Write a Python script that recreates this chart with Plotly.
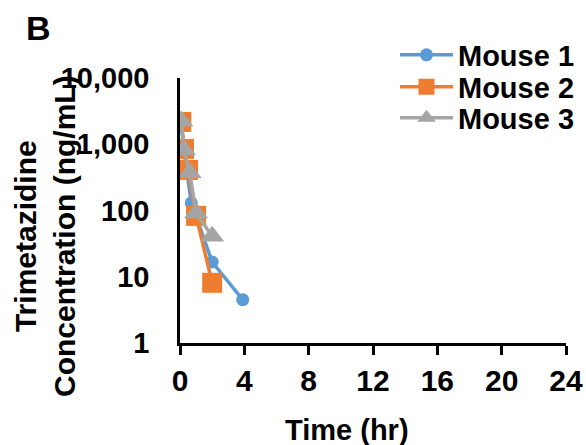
import plotly.graph_objects as go

# Data (time in hr, concentration in ng/mL)
m1_time = [0.083, 0.25, 0.7, 2, 3.9]
m1_conc = [2000, 800, 130, 16.7, 4.5]

m2_time = [0.083, 0.25, 0.5, 1, 2]
m2_conc = [2170, 850, 410, 83, 8.1]

m3_time = [0.083, 0.25, 0.6, 1, 2]
m3_conc = [2240, 820, 370, 92, 41]

x_ticks = [0, 4, 8, 12, 16, 20, 24]
y_ticks = [1, 10, 100, 1000, 10000]
y_ticklabels = ["1", "10", "100", "1,000", "10,000"]

FONT = "Liberation Sans, Arial, sans-serif"
BLUE = "#5B9BD5"
ORANGE = "#ED7D31"
GRAY = "#A5A5A5"

fig = go.Figure()
fig.add_trace(go.Scatter(x=m1_time, y=m1_conc, name="Mouse 1", mode="lines+markers",
                         line=dict(color=BLUE, width=3.5), legend="legend",
                         marker=dict(symbol="circle", size=13, color=BLUE)))
fig.add_trace(go.Scatter(x=m2_time, y=m2_conc, name="Mouse 2", mode="lines+markers",
                         line=dict(color=ORANGE, width=3.5), legend="legend2",
                         marker=dict(symbol="square", size=20, color=ORANGE)))
fig.add_trace(go.Scatter(x=m3_time, y=m3_conc, name="Mouse 3", mode="lines+markers",
                         line=dict(color=GRAY, width=3.5), legend="legend3",
                         marker=dict(symbol="triangle-up", size=21, color=GRAY)))

L, R, T, B = 180, 20, 78, 102
W, H = 586, 445
pw = W - L - R
ph = H - T - B

def px_x(px):
    return (px - L) / pw

def px_y(py):
    return (H - B - py) / ph

def legend_at(row_y):
    return dict(x=px_x(395), y=px_y(row_y), xanchor="left", yanchor="middle",
                bgcolor="rgba(0,0,0,0)", itemwidth=53,
                font=dict(family=FONT, size=29, weight="bold", color="black"))

fig.update_layout(
    width=W, height=H,
    margin=dict(l=L, r=R, t=T, b=B, pad=0, autoexpand=False),
    paper_bgcolor="white", plot_bgcolor="white",
    font=dict(family=FONT, color="black", size=28, weight="bold"),
    xaxis=dict(range=[0, 24], tickvals=x_ticks, showgrid=False, zeroline=False,
               showline=True, linecolor="black", linewidth=2.5,
               ticks="outside", ticklen=9, tickwidth=2.5, tickcolor="black",
               tickfont=dict(family=FONT, size=30, weight="bold", color="black")),
    yaxis=dict(type="log", range=[0, 4], tickvals=y_ticks, ticktext=y_ticklabels,
               showgrid=False, zeroline=False,
               showline=True, linecolor="black", linewidth=2.5,
               ticks="", ticklabelstandoff=22,
               tickfont=dict(family=FONT, size=29, weight="bold", color="black")),
    legend=legend_at(55),
    legend2=legend_at(87),
    legend3=legend_at(118),
    showlegend=True,
)

fig.add_annotation(text="Time (hr)", xref="paper", yref="paper",
                   x=px_x(347), y=px_y(430), xanchor="center", yanchor="middle",
                   showarrow=False, font=dict(family=FONT, size=29, weight="bold", color="black"))
fig.add_annotation(text="Trimetazidine<br>Concentration (ng/mL)", xref="paper", yref="paper",
                   x=px_x(45), y=px_y(236), xanchor="center", yanchor="middle",
                   textangle=-90, showarrow=False,
                   font=dict(family=FONT, size=30, weight="bold", color="black"))
fig.add_annotation(text="B", xref="paper", yref="paper",
                   x=px_x(38), y=px_y(28), xanchor="center", yanchor="middle",
                   showarrow=False, font=dict(family=FONT, size=34, weight="bold", color="black"))

fig.write_html("out.html")
